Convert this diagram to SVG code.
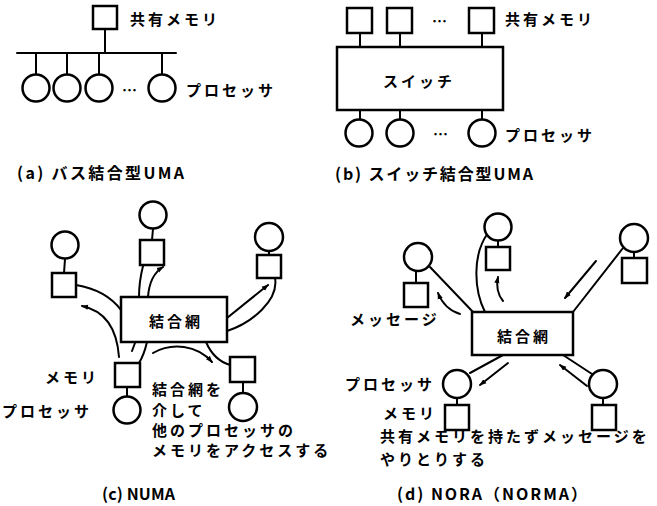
<svg xmlns="http://www.w3.org/2000/svg" width="657" height="506" viewBox="0 0 657 506">
<defs>
<style>
.ln{stroke:#000;stroke-width:2;fill:none;stroke-linecap:round}
.nd{fill:#fff;stroke:#000;stroke-width:2.5}
.ar{stroke:#000;stroke-width:2;fill:none;stroke-linecap:round;marker-end:url(#ah)}
text{font-family:"Noto Sans CJK JP","Noto Sans",sans-serif;font-size:15px;font-weight:700;fill:#000;dominant-baseline:central}
.sp{letter-spacing:3px}
.cap{font-size:16px}
</style>
<marker id="ah" viewBox="0 0 8 8" refX="7" refY="4" markerWidth="7" markerHeight="7" markerUnits="userSpaceOnUse" orient="auto">
<path d="M0,1 L8,4 L0,7 Z" fill="#000"/>
</marker>
</defs>
<rect width="657" height="506" fill="#fff"/>

<!-- connectors -->
<g id="connectors">
<!-- (a) -->
<line class="ln" x1="105" y1="29" x2="105" y2="53"/>
<line class="ln" x1="17" y1="53" x2="176" y2="53"/>
<line class="ln" x1="36" y1="53" x2="36" y2="74"/>
<line class="ln" x1="67" y1="53" x2="67" y2="74"/>
<line class="ln" x1="99" y1="53" x2="99" y2="74"/>
<line class="ln" x1="162" y1="53" x2="162" y2="74"/>
<!-- (b) -->
<line class="ln" x1="360" y1="33" x2="360" y2="47"/>
<line class="ln" x1="400" y1="33" x2="400" y2="47"/>
<line class="ln" x1="482" y1="33" x2="482" y2="47"/>
<line class="ln" x1="360" y1="110" x2="360" y2="120"/>
<line class="ln" x1="400" y1="110" x2="400" y2="120"/>
<line class="ln" x1="482" y1="110" x2="482" y2="120"/>
<!-- (c) -->
<line class="ln" x1="65" y1="259" x2="64" y2="273"/>
<line class="ln" x1="153" y1="229" x2="152" y2="240"/>
<line class="ln" x1="269" y1="251" x2="269" y2="255"/>
<line class="ln" x1="127" y1="387" x2="127" y2="397"/>
<line class="ln" x1="243" y1="382" x2="243" y2="393"/>
<path class="ln" d="M76,285 Q106,290 121,310"/>
<path class="ar" d="M119,357 C117,330 106,311 82,306"/>
<path class="ln" d="M143,266 Q139,282 139,297"/>
<path class="ar" d="M148,297 C149,283 153,273 163,267"/>
<path class="ln" d="M135,343 L132,351"/>
<path class="ln" d="M147,342 Q144,355 139,363"/>
<path class="ar" d="M153,353 C172,342 197,345 212,362"/>
<path class="ln" d="M206,342 C212,356 220,362 230,365"/>
<path class="ar" d="M227,318 L268,285"/>
<path class="ln" d="M275,278 C279,300 252,323 227,331"/>
<!-- (d) -->
<line class="ln" x1="416" y1="271" x2="416" y2="283"/>
<line class="ln" x1="498" y1="241" x2="498" y2="247"/>
<line class="ln" x1="634" y1="252" x2="634" y2="258"/>
<line class="ln" x1="457" y1="398" x2="457" y2="405"/>
<line class="ln" x1="603" y1="398" x2="603" y2="405"/>
<path class="ln" d="M430,267 L473,312"/>
<path class="ar" d="M460,314 C450,311 442,303 438,293"/>
<path class="ln" d="M488,233 C472,255 474,290 485,312"/>
<path class="ar" d="M503,301 C498,295 496,287 498,277"/>
<path class="ln" d="M573,312 L623,248"/>
<path class="ar" d="M596,261 L565,298"/>
<path class="ln" d="M503,355 L470,373"/>
<path class="ar" d="M508,363 L480,385"/>
<path class="ln" d="M563,355 L592,374"/>
<path class="ar" d="M587,386 L560,365"/>
</g>

<!-- (a) bus UMA -->
<g id="a-memory"><rect class="nd" x="93" y="6" width="24" height="23"/></g>
<g id="a-p1"><circle class="nd" cx="36" cy="88" r="13.5"/></g>
<g id="a-p2"><circle class="nd" cx="67" cy="88" r="13.5"/></g>
<g id="a-p3"><circle class="nd" cx="99" cy="88" r="13.5"/></g>
<g id="a-p4"><circle class="nd" cx="162" cy="88" r="13.5"/></g>
<g id="a-labels">
<text class="sp" x="130" y="18">共有メモリ</text>
<text x="122" y="89">…</text>
<text class="sp" x="186" y="89">プロセッサ</text>
<text class="cap" x="17" y="172" textLength="167" lengthAdjust="spacing">(a) バス結合型UMA</text>
</g>

<!-- (b) switch UMA -->
<g id="b-m1"><rect class="nd" x="347" y="8" width="25" height="25"/></g>
<g id="b-m2"><rect class="nd" x="387" y="8" width="25" height="25"/></g>
<g id="b-m3"><rect class="nd" x="469" y="8" width="25" height="25"/></g>
<g id="b-switch"><rect class="nd" x="337" y="47" width="166" height="63"/><text class="sp" x="419" y="80" text-anchor="middle">スイッチ</text></g>
<g id="b-p1"><circle class="nd" cx="359" cy="133" r="13.5"/></g>
<g id="b-p2"><circle class="nd" cx="400" cy="133" r="13.5"/></g>
<g id="b-p3"><circle class="nd" cx="482" cy="133" r="13.5"/></g>
<g id="b-labels">
<text x="432" y="20">…</text>
<text class="sp" x="505" y="18">共有メモリ</text>
<text x="433" y="133">…</text>
<text class="sp" x="505" y="134">プロセッサ</text>
<text class="cap" x="335" y="173" textLength="198" lengthAdjust="spacing">(b) スイッチ結合型UMA</text>
</g>

<!-- (c) NUMA -->
<g id="c-net"><rect class="nd" x="121" y="297" width="106" height="45"/><text class="sp" x="176" y="320" text-anchor="middle">結合網</text></g>
<g id="c-n1"><circle class="nd" cx="65" cy="245" r="13.5"/><rect class="nd" x="52" y="273" width="24" height="24"/></g>
<g id="c-n2"><circle class="nd" cx="153" cy="215" r="13.5"/><rect class="nd" x="140" y="240" width="24" height="25"/></g>
<g id="c-n3"><circle class="nd" cx="269" cy="237" r="14"/><rect class="nd" x="257" y="255" width="24" height="23"/></g>
<g id="c-n4"><rect class="nd" x="115" y="363" width="25" height="24"/><circle class="nd" cx="127" cy="410" r="13.5"/></g>
<g id="c-n5"><rect class="nd" x="230" y="357" width="25" height="25"/><circle class="nd" cx="243" cy="407" r="14"/></g>
<g id="c-labels">
<text class="sp" x="45" y="376">メモリ</text>
<text class="sp" x="2" y="410">プロセッサ</text>
<text class="sp" x="152" y="388">結合網を</text>
<text class="sp" x="152" y="409">介して</text>
<text class="sp" x="152" y="429">他のプロセッサの</text>
<text class="sp" x="152" y="449">メモリをアクセスする</text>
<text class="cap" x="102" y="493" textLength="73" lengthAdjust="spacing">(c) NUMA</text>
</g>

<!-- (d) NORA -->
<g id="d-net"><rect class="nd" x="472" y="312" width="101" height="43"/><text class="sp" x="524" y="335" text-anchor="middle">結合網</text></g>
<g id="d-n1"><circle class="nd" cx="418" cy="257" r="14"/><rect class="nd" x="404" y="283" width="24" height="24"/></g>
<g id="d-n2"><circle class="nd" cx="498" cy="227" r="13.5"/><rect class="nd" x="486" y="247" width="24" height="23"/></g>
<g id="d-n3"><circle class="nd" cx="634" cy="238" r="14"/><rect class="nd" x="622" y="258" width="25" height="25"/></g>
<g id="d-n4"><circle class="nd" cx="457" cy="384" r="14"/><rect class="nd" x="445" y="405" width="24" height="25"/></g>
<g id="d-n5"><circle class="nd" cx="603" cy="384" r="14"/><rect class="nd" x="592" y="405" width="24" height="25"/></g>
<g id="d-labels">
<text class="sp" x="350" y="318">メッセージ</text>
<text class="sp" x="345" y="383">プロセッサ</text>
<text class="sp" x="383" y="412">メモリ</text>
<text class="sp" x="380" y="435">共有メモリを持たずメッセージを</text>
<text class="sp" x="380" y="458">やりとりする</text>
<text class="cap" x="397" y="493" textLength="190" lengthAdjust="spacing">(d) NORA（NORMA）</text>
</g>
</svg>
